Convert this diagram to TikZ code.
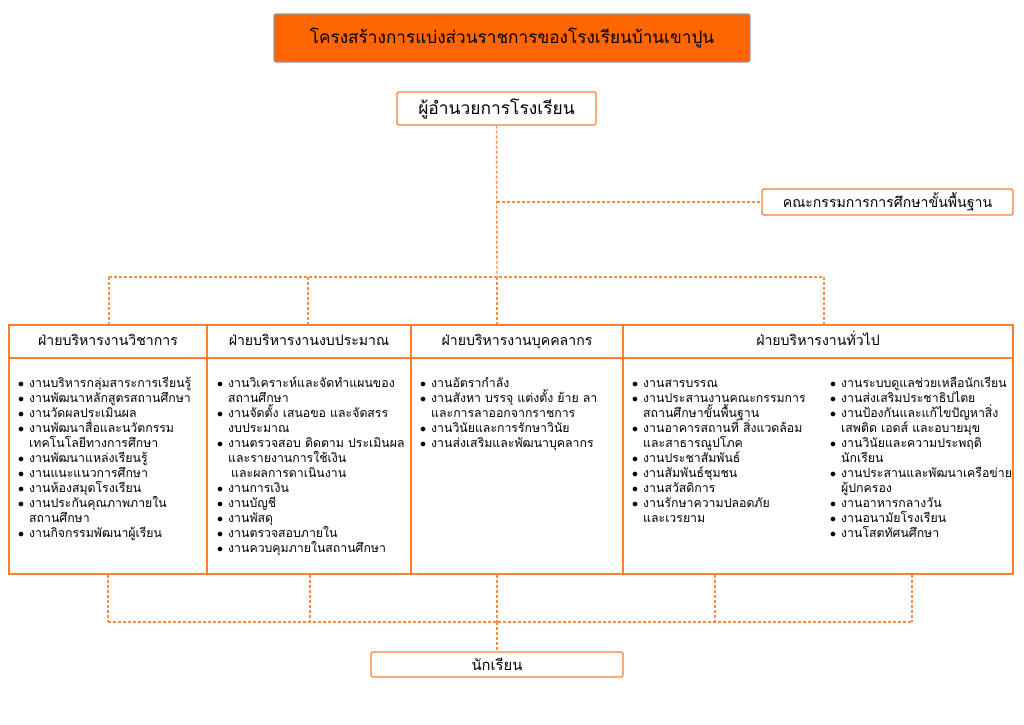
\documentclass[tikz,border=0pt]{standalone}
\usepackage{fontspec}
\usepackage{tikz}
\usetikzlibrary{positioning}
\newfontfamily\thaifont[Script=Thai]{Loma}
\definecolor{titleorange}{HTML}{FF6600}
\definecolor{lineorange}{HTML}{FF7F2A}
\definecolor{dashorange}{HTML}{FF8D45}
\newcommand{\itm}[1]{\par\lineskiplimit=-20pt\relax\noindent\hangindent=11pt\hangafter=1\strut\makebox[11pt][l]{$\bullet$}#1\par}

\begin{document}
\begin{tikzpicture}[x=1pt,y=-1pt,
  box/.style={draw=lineorange, line width=1.2pt, fill=white, rounded corners=2pt, inner sep=0pt},
  headcell/.style={draw=lineorange, line width=1.2pt, inner sep=0pt, minimum height=33pt, text height=10pt, text depth=3pt, font=\thaifont\fontsize{14.1}{16}\selectfont},
  bodycell/.style={draw=lineorange, line width=1.2pt, inner sep=0pt, minimum height=216pt},
  worklist/.style={anchor=north west, inner sep=0pt, text width=#1, align=left, font=\thaifont\fontsize{12.3}{15}\selectfont},
  link/.style={dashorange, line width=1.4pt, dash pattern=on 3pt off 2pt}]

\useasboundingbox[fill=white] (0,0) rectangle (1024,724);

% top boxes
{
\node[box, draw=gray!80, fill=titleorange, minimum width=476pt, minimum height=48pt, font=\thaifont\fontsize{17.2}{20}\selectfont] (title) at (512,38) {โครงสร้างการแบ่งส่วนราชการของโรงเรียนบ้านเขาปูน};

\node[box, minimum width=199pt, minimum height=33pt, font=\thaifont\fontsize{17.4}{20}\selectfont] (director) at (496.5,108.5) {ผู้อำนวยการโรงเรียน};

\node[box, minimum width=251pt, minimum height=26pt, font=\thaifont\fontsize{14.1}{18}\selectfont] (committee) at (887.5,202) {คณะกรรมการการศึกษาขั้นพื้นฐาน};
}

% table
{
\node[headcell, minimum width=198pt] (headA) at (108,341.5) {ฝ่ายบริหารงานวิชาการ};
\node[headcell, minimum width=204pt] (headB) at (309,341.5) {ฝ่ายบริหารงานงบประมาณ};
\node[headcell, minimum width=212pt] (headC) at (517,341.5) {ฝ่ายบริหารงานบุคคลากร};
\node[headcell, minimum width=390pt] (headD) at (818,341.5) {ฝ่ายบริหารงานทั่วไป};

\node[bodycell, minimum width=198pt] (bodyA) at (108,466) {};
\node[bodycell, minimum width=204pt] (bodyB) at (309,466) {};
\node[bodycell, minimum width=212pt] (bodyC) at (517,466) {};
\node[bodycell, minimum width=390pt] (bodyD) at (818,466) {};
}

% lists
{
\node[worklist=240pt] (listA) at (18,372) {
\itm{งานบริหารกลุ่มสาระการเรียนรู้}
\itm{งานพัฒนาหลักสูตรสถานศึกษา}
\itm{งานวัดผลประเมินผล}
\itm{งานพัฒนาสื่อและนวัตกรรม\newline เทคโนโลยีทางการศึกษา}
\itm{งานพัฒนาแหล่งเรียนรู้}
\itm{งานแนะแนวการศึกษา}
\itm{งานห้องสมุดโรงเรียน}
\itm{งานประกันคุณภาพภายใน\newline สถานศึกษา}
\itm{งานกิจกรรมพัฒนาผู้เรียน}};

\node[worklist=240pt] (listB) at (217,372) {
\itm{งานวิเคราะห์และจัดทำแผนของ\newline สถานศึกษา}
\itm{งานจัดตั้ง เสนอขอ และจัดสรร\newline งบประมาณ}
\itm{งานตรวจสอบ ติดตาม ประเมินผล\newline และรายงานการใช้เงิน\newline\hspace*{3pt}และผลการดาเนินงาน}
\itm{งานการเงิน}
\itm{งานบัญชี}
\itm{งานพัสดุ}
\itm{งานตรวจสอบภายใน}
\itm{งานควบคุมภายในสถานศึกษา}};

\node[worklist=240pt] (listC) at (420,372) {
\itm{งานอัตรากำลัง}
\itm{งานสังหา บรรจุ แต่งตั้ง ย้าย ลา\newline และการลาออกจากราชการ}
\itm{งานวินัยและการรักษาวินัย}
\itm{งานส่งเสริมและพัฒนาบุคลากร}};

\node[worklist=240pt] (listD) at (632,372) {
\itm{งานสารบรรณ}
\itm{งานประสานงานคณะกรรมการ\newline สถานศึกษาขั้นพื้นฐาน}
\itm{งานอาคารสถานที่ สิ่งแวดล้อม\newline และสาธารณูปโภค}
\itm{งานประชาสัมพันธ์}
\itm{งานสัมพันธ์ชุมชน}
\itm{งานสวัสดิการ}
\itm{งานรักษาความปลอดภัย\newline และเวรยาม}};

\node[worklist=240pt] (listE) at (830,372) {
\itm{งานระบบดูแลช่วยเหลือนักเรียน}
\itm{งานส่งเสริมประชาธิปไตย}
\itm{งานป้องกันและแก้ไขปัญหาสิ่ง\newline เสพติด เอดส์ และอบายมุข}
\itm{งานวินัยและความประพฤติ\newline นักเรียน}
\itm{งานประสานและพัฒนาเครือข่าย\newline ผู้ปกครอง}
\itm{งานอาหารกลางวัน}
\itm{งานอนามัยโรงเรียน}
\itm{งานโสตทัศนศึกษา}};
}

% students
\node[box, minimum width=252pt, minimum height=25pt, font=\thaifont\fontsize{14.8}{18}\selectfont] (student) at (497,664.5) {นักเรียน};

%dashed lines
{
\coordinate (jA) at (109,277);
\coordinate (jB) at (308,277);
\coordinate (jC) at (497,277);
\coordinate (jD) at (824,277);

\draw[link] (director.south) -- (jC);
\draw[link] (director.south |- committee.west) -- (committee.west);
\draw[link] (jA) -- (jD);
\draw[link] (jA) -- (jA |- headA.north);
\draw[link] (jB) -- (jB |- headB.north);
\draw[link] (jC) -- (jC |- headC.north);
\draw[link] (jD) -- (jD |- headD.north);

\coordinate (kA) at (108,622);
\coordinate (kB) at (310,622);
\coordinate (kC) at (497,622);
\coordinate (kD) at (715,622);
\coordinate (kE) at (912,622);

\draw[link] (kA) -- (kE);
\draw[link] (kA |- bodyA.south) -- (kA);
\draw[link] (kB |- bodyB.south) -- (kB);
\draw[link] (kC |- bodyC.south) -- (kC);
\draw[link] (kD |- bodyD.south) -- (kD);
\draw[link] (kE |- bodyD.south) -- (kE);
\draw[link] (kC) -- (student.north);
}

\end{tikzpicture}
\end{document}
